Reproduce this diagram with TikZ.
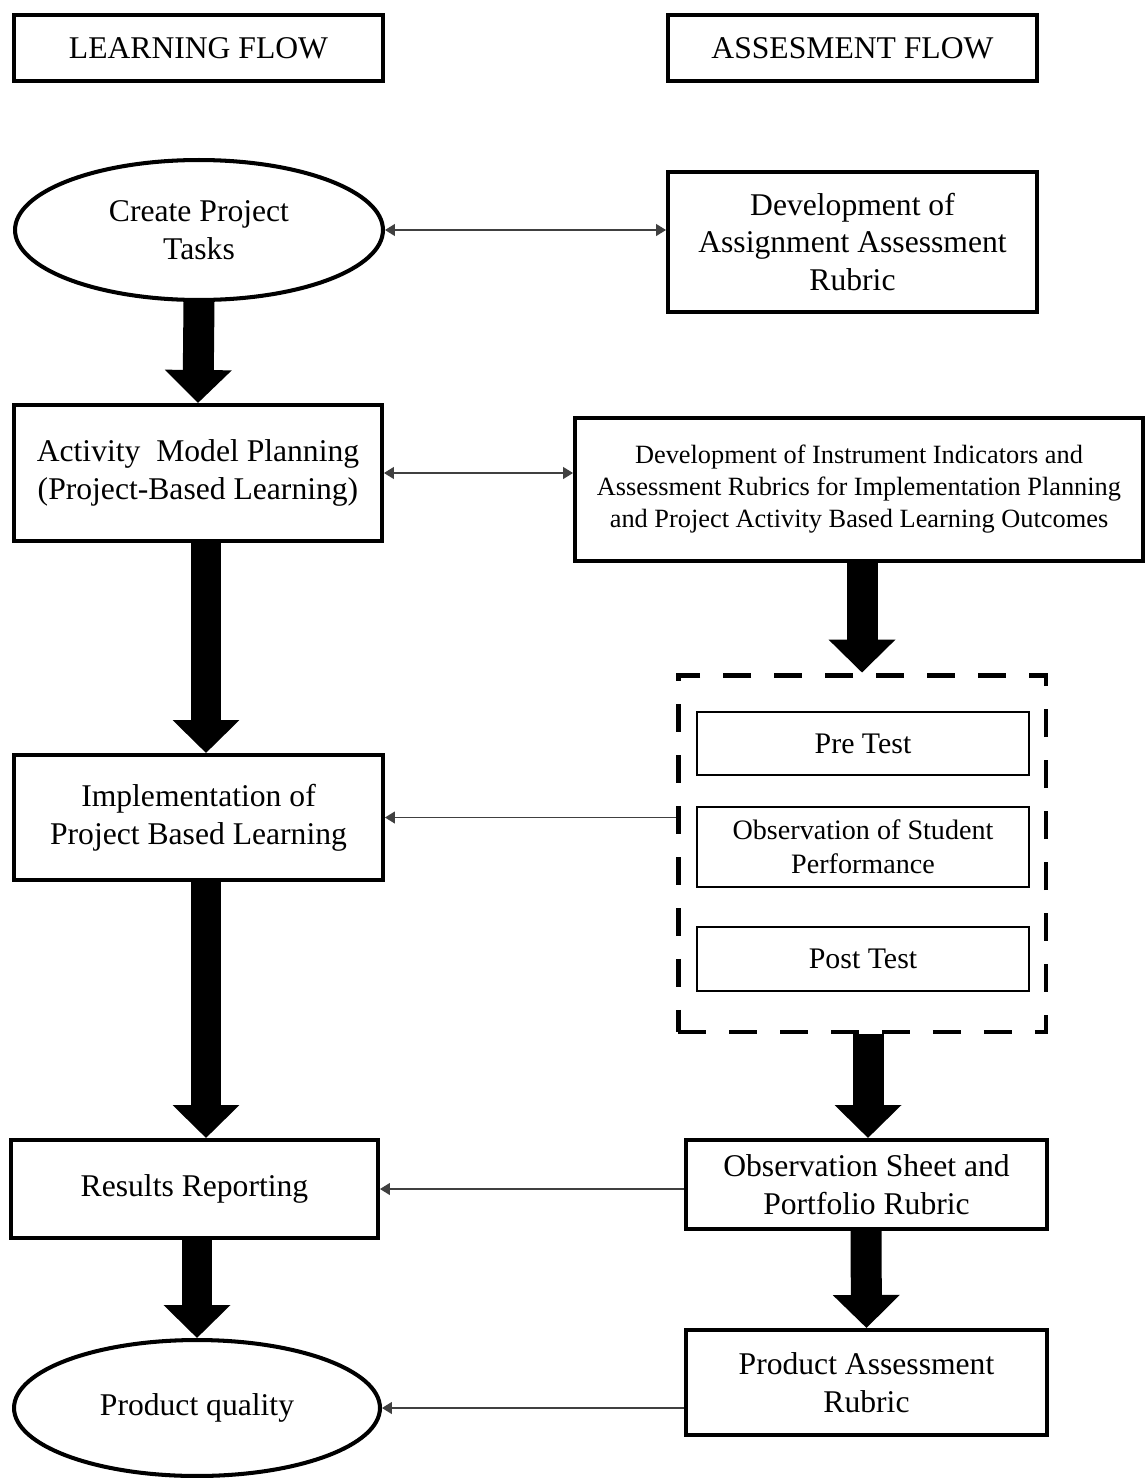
\documentclass[tikz,border=0pt]{standalone}
\usepackage{fontspec}
\setmainfont{Liberation Serif}
\usepackage{tikz}
\usetikzlibrary{shapes,arrows}
\usetikzlibrary{positioning}
\usetikzlibrary{arrows.meta}

\tikzset{
	box/.style={draw, line width=2.3pt, align=center, inner sep=2pt, font=\fontsize{18}{21.6}\selectfont},
	oval/.style={box, ellipse},
	subbox/.style={draw, line width=1.2pt, align=center, minimum width=6.64cm, font=\fontsize{17}{20.5}\selectfont},
	dashframe/.style={draw, line width=2.8pt, dash pattern=on 0.56cm off 0.46cm},
	bigarrow/.style={line width=0.62cm, -{Triangle[width=1.3cm,length=0.66cm]}},
	onearrow/.style={line width=0.7pt, draw=black!75, -{Triangle[width=0.24cm,length=0.2cm]}},
	twoarrow/.style={line width=0.7pt, draw=black!75, {Triangle[width=0.24cm,length=0.2cm]}-{Triangle[width=0.24cm,length=0.2cm]}},
}

\begin{document}
\begin{tikzpicture}[x=0.02cm, y=-0.02cm]

	\useasboundingbox (0,0) rectangle (1145,1478);

	\node [box, minimum width=7.38cm, minimum height=1.32cm] (lflow) at (198.5,48) {LEARNING FLOW};
	\node [box, minimum width=7.38cm, minimum height=1.32cm] (aflow) at (852.5,48) {ASSESMENT FLOW};

	\node [oval, minimum width=7.36cm, minimum height=2.8cm] (create) at (199,230) {Create Project\\Tasks};
	\node [box, minimum width=7.38cm, minimum height=2.8cm] (rubric) at (852.5,242) {Development of\\Assignment Assessment\\Rubric};
	\node [box, minimum width=7.36cm, minimum height=2.72cm] (plan) at (198,473) {Activity\ \ Model Planning\\(Project-Based Learning)};
	\node [box, minimum width=11.36cm, minimum height=2.86cm, font=\fontsize{15}{18.2}\selectfont] (indic) at (859,489.5) {Development of Instrument Indicators and\\Assessment Rubrics for Implementation Planning\\and Project Activity Based Learning Outcomes};
	\node [box, minimum width=7.38cm, minimum height=2.5cm] (impl) at (198.5,817.5) {Implementation of\\Project Based Learning};

	\node [dashframe, minimum width=7.36cm, minimum height=7.14cm] (tests) at (862,853.5) {};
	\node [subbox, minimum height=1.26cm] (pre) at (863,743.5) {Pre Test};
	\node [subbox, minimum height=1.6cm, font=\fontsize{16}{19.5}\selectfont] (obs) at (863,847) {Observation of Student\\Performance};
	\node [subbox, minimum height=1.28cm] (post) at (863,959) {Post Test};

	\node [box, minimum width=7.34cm, minimum height=1.96cm] (report) at (194.5,1189) {Results Reporting};
	\node [box, minimum width=7.22cm, minimum height=1.78cm] (sheet) at (866.5,1184.5) {Observation Sheet and\\Portfolio Rubric};
	\node [oval, minimum width=7.32cm, minimum height=2.72cm] (quality) at (197,1408) {Product quality};
	\node [box, minimum width=7.22cm, minimum height=2.1cm] (prod) at (866.5,1382.5) {Product Assessment\\Rubric};

	\draw [bigarrow] (create.south) -- (plan.north);
	\draw [bigarrow] (206,0 |- plan.south) -- (206,0 |- impl.north);
	\draw [bigarrow] (206,0 |- impl.south) -- (206,0 |- report.north);
	\draw [bigarrow] (197,0 |- report.south) -- (quality.north);
	\draw [bigarrow] (862,0 |- indic.south) -- (tests.north);
	\draw [bigarrow] (868,0 |- tests.south) -- (868,0 |- sheet.north);
	\draw [bigarrow] (866,0 |- sheet.south) -- (prod.north);

	\draw [twoarrow] (create.east) -- (create.east -| rubric.west);
	\draw [twoarrow] (plan.east) -- (plan.east -| indic.west);
	\draw [onearrow] (tests.west |- impl.east) -- (impl.east);
	\draw [onearrow] (report.east -| sheet.west) -- (report.east);
	\draw [onearrow] (prod.west |- quality.east) -- (quality.east);
	%\draw [onearrow] (post.west) -- ++(-1,0);

\end{tikzpicture}
\end{document}
